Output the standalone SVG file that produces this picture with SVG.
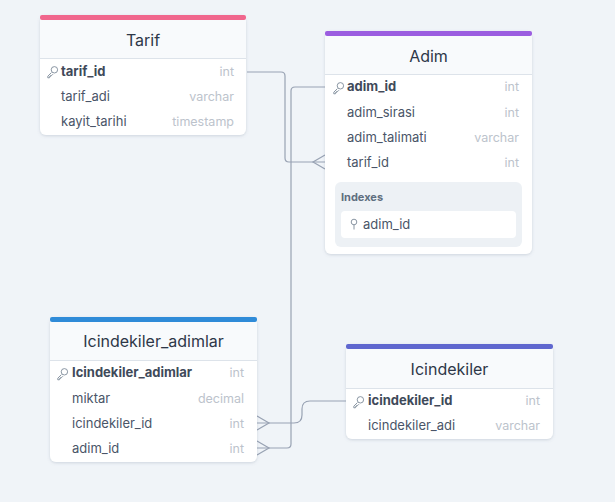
<svg xmlns="http://www.w3.org/2000/svg" width="615" height="502" viewBox="0 0 615 502">
<defs>
<filter id="sh" x="-10%" y="-10%" width="120%" height="130%"><feDropShadow dx="0" dy="1" stdDeviation="1.5" flood-color="#64748b" flood-opacity="0.25"/></filter>
<g id="key"><path d="M-1.6,1.6 l-3.6,3.6 l0,1.6 l1.6,0 l0,-1.2 l1.2,0 l0,-1.2 l1.2,0 l1.2,-1.2" fill="none" stroke="#7d8a99" stroke-width="0.9"/><circle cx="1.4" cy="-1.2" r="3.2" fill="none" stroke="#7d8a99" stroke-width="0.9"/></g>
</defs>
<style>
.card{fill:#ffffff}
.hdr{fill:#f8fafc}
.sep{stroke:#dde3ea;stroke-width:1}
.title{font-family:Inter,"Liberation Sans",sans-serif;font-size:16px;fill:#2d3748;text-anchor:middle}
.f{font-family:Inter,"Liberation Sans",sans-serif;font-size:13px;fill:#4a5568}
.pk{font-weight:bold;fill:#3f4a5a}
.t{font-family:Inter,"Liberation Sans",sans-serif;font-size:12.5px;fill:#bcc3cc;text-anchor:end}
.ix{font-family:Inter,"Liberation Sans",sans-serif;font-size:11px;font-weight:bold;fill:#5f6f80}
.cn{fill:none;stroke:#98a2b3;stroke-width:1.2}
</style>
<rect width="615" height="502" fill="#f0f4f8"/>
<g id="connectors">
<path class="cn" d="M247,72 H281 Q285,72 285,76 V158 Q285,162 289,162 H325"/>
<path class="cn" d="M325,155 L313,162 L325,169"/>
<path class="cn" d="M325,87 H295 Q291,87 291,91 V444 Q291,448 287,448 H257"/>
<path class="cn" d="M257,441 L269,448 L257,455"/>
<path class="cn" d="M346,401 H310 Q302,401 302,409 V415 Q302,423 294,423 H257"/>
<path class="cn" d="M257,416 L269,423 L257,430"/>
</g>
<g id="tarif">
<g filter="url(#sh)"><rect class="card" x="40" y="15" width="206" height="120" rx="6"/></g>
<path d="M40,58 V21 Q40,15 46,15 H240 Q246,15 246,21 V58 Z" class="hdr"/>
<rect x="40" y="15" width="206" height="5" rx="2" fill="#f0668d"/>
<line class="sep" x1="40" y1="58.5" x2="246" y2="58.5"/>
<text class="title" x="143" y="46">Tarif</text>
<use href="#key" x="53" y="71"/>
<text class="f pk" x="61" y="76">tarif_id</text><text class="t" x="234" y="76">int</text>
<text class="f" x="61" y="101">tarif_adi</text><text class="t" x="234" y="101">varchar</text>
<text class="f" x="61" y="126">kayit_tarihi</text><text class="t" x="234" y="126">timestamp</text>
</g>
<g id="adim">
<g filter="url(#sh)"><rect class="card" x="325" y="31" width="207" height="223" rx="6"/></g>
<path d="M325,74 V37 Q325,31 331,31 H526 Q532,31 532,37 V74 Z" class="hdr"/>
<rect x="325" y="31" width="207" height="5" rx="2" fill="#9b5de0"/>
<line class="sep" x1="325" y1="74.5" x2="532" y2="74.5"/>
<text class="title" x="428.5" y="62">Adim</text>
<use href="#key" x="339" y="87"/>
<text class="f pk" x="347" y="91">adim_id</text><text class="t" x="519" y="91">int</text>
<text class="f" x="347" y="117">adim_sirasi</text><text class="t" x="519" y="117">int</text>
<text class="f" x="347" y="142">adim_talimati</text><text class="t" x="519" y="142">varchar</text>
<text class="f" x="347" y="167">tarif_id</text><text class="t" x="519" y="167">int</text>
<rect x="335" y="182" width="187" height="65" rx="6" fill="#edf1f5"/>
<text class="ix" x="341" y="201">Indexes</text>
<rect x="341" y="211" width="175" height="27" rx="4" fill="#ffffff"/>
<circle cx="354" cy="222" r="2.8" fill="none" stroke="#7d8a99" stroke-width="0.9"/><line x1="354" y1="224.8" x2="354" y2="229.5" stroke="#7d8a99" stroke-width="0.9"/>
<text class="f" x="363" y="229">adim_id</text>
</g>
<g id="icindekiler_adimlar">
<g filter="url(#sh)"><rect class="card" x="50" y="317" width="207" height="145" rx="6"/></g>
<path d="M50,360 V323 Q50,317 56,317 H251 Q257,317 257,323 V360 Z" class="hdr"/>
<rect x="50" y="317" width="207" height="5" rx="2" fill="#2f8bd8"/>
<line class="sep" x1="50" y1="360.5" x2="257" y2="360.5"/>
<text class="title" x="153.5" y="347">Icindekiler_adimlar</text>
<use href="#key" x="63" y="373"/>
<text class="f pk" x="72" y="377">Icindekiler_adimlar</text><text class="t" x="244" y="377">int</text>
<text class="f" x="72" y="403">miktar</text><text class="t" x="244" y="403">decimal</text>
<text class="f" x="72" y="428">icindekiler_id</text><text class="t" x="244" y="428">int</text>
<text class="f" x="72" y="453">adim_id</text><text class="t" x="244" y="453">int</text>
</g>
<g id="icindekiler">
<g filter="url(#sh)"><rect class="card" x="346" y="344" width="207" height="95" rx="6"/></g>
<path d="M346,388 V350 Q346,344 352,344 H547 Q553,344 553,350 V388 Z" class="hdr"/>
<rect x="346" y="344" width="207" height="5" rx="2" fill="#5f67cf"/>
<line class="sep" x1="346" y1="388.5" x2="553" y2="388.5"/>
<text class="title" x="449.5" y="375">Icindekiler</text>
<use href="#key" x="359" y="401"/>
<text class="f pk" x="368" y="405">icindekiler_id</text><text class="t" x="540" y="405">int</text>
<text class="f" x="368" y="430">icindekiler_adi</text><text class="t" x="540" y="430">varchar</text>
</g>
</svg>
